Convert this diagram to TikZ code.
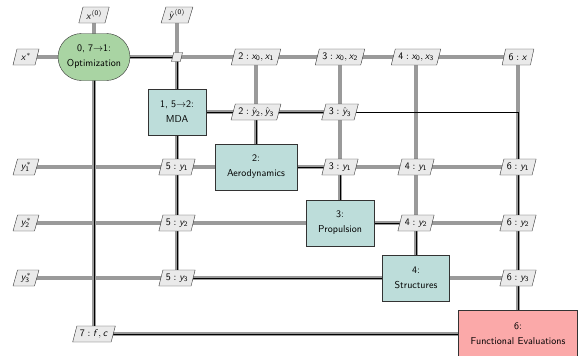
\documentclass[tikz,border=0pt]{standalone}
\usetikzlibrary{shapes.geometric,shapes.misc,backgrounds}

% sans serif letters and digits in math
\DeclareSymbolFont{sfit}{OT1}{cmss}{m}{sl}
\DeclareSymbolFont{sfup}{OT1}{cmss}{m}{n}
\DeclareMathSymbol{x}{\mathalpha}{sfit}{`x}
\DeclareMathSymbol{y}{\mathalpha}{sfit}{`y}
\DeclareMathSymbol{f}{\mathalpha}{sfit}{`f}
\DeclareMathSymbol{c}{\mathalpha}{sfit}{`c}
\DeclareMathSymbol{0}{\mathalpha}{sfup}{`0}
\DeclareMathSymbol{1}{\mathalpha}{sfup}{`1}
\DeclareMathSymbol{2}{\mathalpha}{sfup}{`2}
\DeclareMathSymbol{3}{\mathalpha}{sfup}{`3}
\DeclareMathSymbol{4}{\mathalpha}{sfup}{`4}
\DeclareMathSymbol{5}{\mathalpha}{sfup}{`5}
\DeclareMathSymbol{6}{\mathalpha}{sfup}{`6}
\DeclareMathSymbol{7}{\mathalpha}{sfup}{`7}

\definecolor{optgreen}{HTML}{A9D4A3}
\definecolor{mdateal}{HTML}{BDDDDA}
\definecolor{funcred}{HTML}{FBA9A9}
\definecolor{datagray}{HTML}{EAEAEA}
\definecolor{linegray}{HTML}{9A9A9A}

\tikzset{
  comp/.style={draw=black!80, fill=mdateal, font=\sffamily, align=center,
    inner xsep=12pt, minimum height=46pt},
  optim/.style={comp, rounded rectangle, fill=optgreen, minimum width=96pt, minimum height=47pt},
  funcbox/.style={comp, fill=funcred, minimum height=48pt},
  dat/.style={trapezium, trapezium left angle=72, trapezium right angle=108, trapezium stretches=true,
    draw=black!80, fill=datagray, inner xsep=3pt, inner ysep=2pt, minimum height=16pt, font=\sffamily},
  inp/.style={dat, minimum width=26pt},
  muxbox/.style={dat, minimum width=11pt, minimum height=9pt, inner sep=1pt},
  dataline/.style={line width=4pt, draw=linegray},
  procline/.style={line width=1pt, draw=black},
}

\begin{document}
\begin{tikzpicture}[x=1pt, y=-1pt]
    \useasboundingbox (0,0) rectangle (581,356);

    % Components on the diagonal
    \node[optim] (opt) at (94,57) {0, 7$\rightarrow$1:\\[3pt]Optimization};
    \node[comp] (mda) at (177,112) {1, 5$\rightarrow$2:\\[3pt]MDA};
    \node[comp] (aero) at (256,167) {2:\\[3pt]Aerodynamics};
    \node[comp] (prop) at (340,223) {3:\\[3pt]Propulsion};
    \node[comp] (struct) at (416,278) {4:\\[3pt]Structures};
    \node[funcbox] (func) at (518,334) {6:\\[3pt]Functional Evaluations};

    % Inputs
    \node[inp] (xin) at (94,15) {$x^{(0)}$};
    \node[inp] (yin) at (177,15) {$\hat{y}^{(0)}$};
    \node[inp] (xstar) at (26,57) {$x^*$};
    \node[inp] (y1star) at (26,167) {$y_1^*$};
    \node[inp] (y2star) at (26,223) {$y_2^*$};
    \node[inp] (y3star) at (26,278) {$y_3^*$};

    % Data passed between components
    \node[muxbox] (mux) at (177,57) {};
    \node[dat] (x2) at (256,57) {$2:x_0,x_1$};
    \node[dat] (x3) at (340,57) {$3:x_0,x_2$};
    \node[dat] (x4) at (416,57) {$4:x_0,x_3$};
    \node[dat] (x6) at (518,57) {$6:x$};
    \node[dat] (yh2) at (256,112) {$2:\hat{y}_2,\hat{y}_3$};
    \node[dat] (yh3) at (340,112) {$3:\hat{y}_3$};
    \node[dat] (y1mda) at (177,167) {$5:y_1$};
    \node[dat] (y1prop) at (340,167) {$3:y_1$};
    \node[dat] (y1struct) at (416,167) {$4:y_1$};
    \node[dat] (y1func) at (518,167) {$6:y_1$};
    \node[dat] (y2mda) at (177,223) {$5:y_2$};
    \node[dat] (y2struct) at (416,223) {$4:y_2$};
    \node[dat] (y2func) at (518,223) {$6:y_2$};
    \node[dat] (y3mda) at (177,278) {$5:y_3$};
    \node[dat] (y3func) at (518,278) {$6:y_3$};
    \node[dat] (fcopt) at (94,334) {$7:f,c$};

    \begin{scope}[on background layer]
        % Data lines
        \draw[dataline] (xin.center) -- (opt.center);
        \draw[dataline] (xstar.center) -- (opt.center) -- (x6.center);
        \draw[dataline] (opt.center) -- (fcopt.center) -- (func.center);
        \draw[dataline] (yin.center) -- (mux.center) -- (y3mda.center);
        \draw[dataline] (mda.center) -- (yh3.center);
        \draw[dataline] (x2.center) -- (aero.center);
        \draw[dataline] (x3.center) -- (prop.center);
        \draw[dataline] (x4.center) -- (struct.center);
        \draw[dataline] (x6.center) -- (func.center);
        \draw[dataline] (y1star.center) -- (y1func.center);
        \draw[dataline] (y2star.center) -- (y2func.center);
        \draw[dataline] (y3star.center) -- (y3func.center);

        % Process lines
        \draw[procline] (opt.center) -| (mda.center);
        \draw[procline] (mda.center) -| (aero.center);
        \draw[procline] (aero.center) -| (prop.center);
        \draw[procline] (prop.center) -| (struct.center);
        \draw[procline] (struct.center) -| (mda.center);
        \draw[procline] (mda.center) -| (func.center);
        \draw[procline] (func.center) -| (opt.center);
    \end{scope}

\end{tikzpicture}
\end{document}
